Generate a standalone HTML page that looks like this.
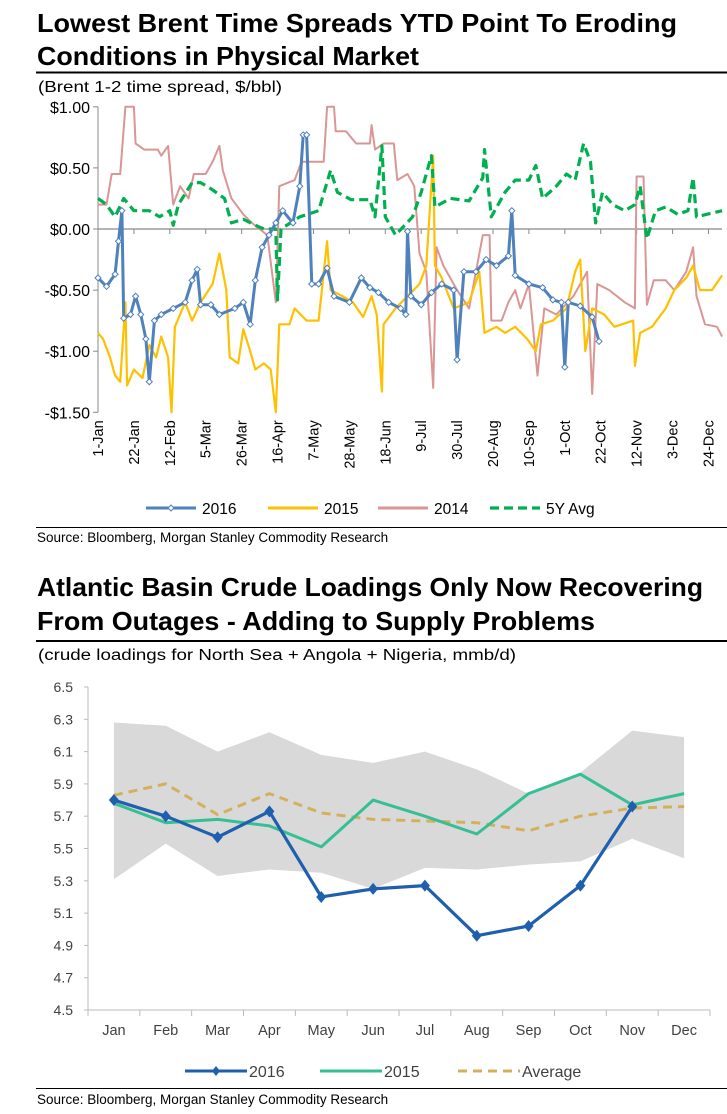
<!DOCTYPE html>
<html><head><meta charset="utf-8"><style>
html,body{margin:0;padding:0;background:#fff;}
svg{display:block;font-family:"Liberation Sans",Arial,sans-serif;}
</style></head><body>
<svg id="page" width="727" height="1114" viewBox="0 0 727 1114" xmlns="http://www.w3.org/2000/svg">
<text x="37" y="32" font-size="26" font-weight="bold" textLength="640" lengthAdjust="spacingAndGlyphs">Lowest Brent Time  Spreads YTD Point To Eroding</text>
<text x="37" y="65" font-size="26" font-weight="bold" textLength="382" lengthAdjust="spacingAndGlyphs">Conditions in Physical Market</text>
<line x1="36" y1="72.5" x2="727" y2="72.5" stroke="#000" stroke-width="2"/>
<text x="38" y="92" font-size="16" textLength="244" lengthAdjust="spacingAndGlyphs">(Brent 1-2 time spread, $/bbl)</text>
<g id="c1"></g>
<line x1="36" y1="527.5" x2="727" y2="527.5" stroke="#000" stroke-width="1"/>
<text x="37" y="542" font-size="13.5">Source: Bloomberg, Morgan Stanley Commodity Research</text>

<text x="37" y="596" font-size="26" font-weight="bold" textLength="666" lengthAdjust="spacingAndGlyphs">Atlantic Basin Crude Loadings Only Now Recovering</text>
<text x="37" y="630" font-size="26" font-weight="bold" textLength="558" lengthAdjust="spacingAndGlyphs">From Outages -  Adding to Supply Problems</text>
<line x1="36" y1="641" x2="727" y2="641" stroke="#000" stroke-width="2"/>
<text x="38" y="660" font-size="15.5" textLength="478" lengthAdjust="spacingAndGlyphs">(crude loadings for North Sea + Angola +  Nigeria, mmb/d)</text>
<g id="c2"></g>
<line x1="36" y1="1088.5" x2="727" y2="1088.5" stroke="#000" stroke-width="1"/>
<text x="37" y="1104" font-size="13.5">Source: Bloomberg, Morgan Stanley Commodity Research</text>
</svg>
<script>
// ---------- Chart 1 data ----------
const tickLabels1 = ["1-Jan","22-Jan","12-Feb","5-Mar","26-Mar","16-Apr","7-May","28-May","18-Jun","9-Jul","30-Jul","20-Aug","10-Sep","1-Oct","22-Oct","12-Nov","3-Dec","24-Dec"];
const yTicks1 = [1,0.5,0,-0.5,-1,-1.5];
const yTickLabels1 = ["$1.00","$0.50","$0.00","-$0.50","-$1.00","-$1.50"];
const days2016 = [0,5,10,12,14,15,19,22,25,28,30,33,37,44,51,55,58,60,66,71,80,85,89,92,96,100,104,108,114,118,120,122,125,129,134,138,147,154,159,164,170,177,180,181,183,189,195,201,208,210,214,221,227,233,240,242,244,252,260,266,271,273,275,282,289,293];
const vals2016 = [-0.40,-0.47,-0.37,-0.10,0.15,-0.73,-0.70,-0.55,-0.70,-0.90,-1.25,-0.75,-0.70,-0.65,-0.60,-0.42,-0.33,-0.62,-0.62,-0.70,-0.65,-0.60,-0.78,-0.42,-0.15,-0.05,0.05,0.15,0.05,0.35,0.77,0.77,-0.45,-0.45,-0.32,-0.55,-0.60,-0.40,-0.48,-0.52,-0.60,-0.65,-0.70,-0.02,-0.55,-0.62,-0.52,-0.45,-0.50,-1.07,-0.35,-0.35,-0.25,-0.30,-0.22,0.15,-0.38,-0.45,-0.48,-0.58,-0.60,-1.13,-0.60,-0.63,-0.72,-0.92];
const days2015 = [0,3,7,10,13,16,17,21,26,30,34,37,41,43,45,51,55,60,67,71,75,77,82,85,89,92,97,101,104,106,112,115,122,129,134,136,143,149,155,160,163,166,167,174,181,188,192,196,197,201,208,217,223,226,233,238,244,251,256,259,266,274,279,282,285,289,296,302,313,314,317,324,332,337,344,348,352,359,365];
const vals2015 = [-0.85,-0.90,-1.05,-1.20,-1.25,-0.60,-1.28,-1.15,-1.22,-0.95,-1.05,-0.88,-1.05,-1.50,-0.80,-0.60,-0.75,-0.60,-0.45,-0.20,-0.50,-1.05,-1.10,-0.82,-1.00,-1.15,-1.10,-1.15,-1.50,-0.78,-0.78,-0.65,-0.75,-0.75,-0.10,-0.50,-0.55,-0.60,-0.72,-0.55,-0.70,-1.33,-0.78,-0.65,-0.55,-0.45,-0.30,0.60,-0.30,-0.40,-0.65,-0.60,-0.35,-0.85,-0.80,-0.85,-0.80,-0.90,-1.00,-0.78,-0.75,-0.65,-0.35,-0.25,-1.00,-0.65,-0.70,-0.80,-0.75,-1.12,-0.85,-0.80,-0.65,-0.50,-0.40,-0.30,-0.50,-0.50,-0.38];
const days2014 = [0,5,8,13,16,21,22,27,35,37,41,44,48,53,56,63,67,71,73,78,85,90,99,104,106,115,119,132,134,138,139,145,151,159,160,162,167,173,175,181,185,188,192,196,198,202,210,217,225,229,230,236,240,244,247,252,257,261,268,278,286,289,292,299,308,314,315,319,321,325,332,337,344,348,350,355,362,365];
const vals2014 = [0.20,0.20,0.45,0.45,1.00,1.00,0.70,0.65,0.65,0.60,0.68,0.20,0.35,0.25,0.45,0.45,0.55,0.68,0.48,0.25,0.12,0.05,-0.05,-0.60,0.35,0.40,0.55,0.55,1.00,1.00,0.80,0.80,0.70,0.70,0.85,0.65,0.70,0.70,0.40,0.45,0.35,-0.20,-0.35,-1.30,-0.15,-0.30,-0.50,-0.65,-0.05,-0.05,-0.75,-0.75,-0.60,-0.50,-0.65,-0.45,-1.20,-0.65,-0.70,-0.55,-0.35,-1.35,-0.45,-0.50,-0.60,-0.65,0.43,0.43,-0.62,-0.42,-0.42,-0.50,-0.35,-0.15,-0.55,-0.78,-0.80,-0.88];
const days5y = [0,5,10,15,21,30,36,42,44,47,55,60,66,74,78,85,92,97,104,105,107,118,129,136,140,148,159,162,166,168,174,184,189,195,197,206,217,225,226,230,238,244,252,256,260,268,274,279,284,288,291,295,301,308,314,317,321,326,332,339,345,348,350,356,365];
const vals5y = [0.25,0.20,0.10,0.25,0.15,0.15,0.10,0.15,0.03,0.20,0.38,0.38,0.33,0.25,0.05,0.08,0.03,0.00,0.00,-0.58,0.00,0.10,0.15,0.48,0.30,0.24,0.24,0.10,0.68,0.10,-0.05,0.10,0.30,0.60,0.18,0.25,0.23,0.42,0.65,0.10,0.30,0.40,0.40,0.52,0.25,0.35,0.45,0.40,0.70,0.55,0.05,0.30,0.20,0.15,0.20,0.35,-0.08,0.15,0.18,0.12,0.15,0.42,0.10,0.12,0.15];

// ---------- Chart 2 data ----------
const months = ["Jan","Feb","Mar","Apr","May","Jun","Jul","Aug","Sep","Oct","Nov","Dec"];
const yTicks2 = [6.5,6.3,6.1,5.9,5.7,5.5,5.3,5.1,4.9,4.7,4.5];
const yTickLabels2 = ["6.5","6.3","6.1","5.9","5.7","5.5","5.3","5.1","4.9","4.7","4.5"];
const load2016 = [5.80,5.70,5.57,5.73,5.20,5.25,5.27,4.96,5.02,5.27,5.76];
const load2015 = [5.78,5.66,5.68,5.64,5.51,5.80,5.70,5.59,5.84,5.96,5.77,5.84];
const loadAvg = [5.83,5.90,5.71,5.84,5.72,5.68,5.67,5.66,5.61,5.70,5.75,5.76];
const rangeHigh = [6.28,6.26,6.10,6.22,6.08,6.03,6.10,5.99,5.84,5.97,6.23,6.19];
const rangeLow = [5.31,5.53,5.33,5.37,5.35,5.25,5.38,5.37,5.40,5.42,5.56,5.44];

const NS="http://www.w3.org/2000/svg";
function mk(parent,tag,attrs,text){const e=document.createElementNS(NS,tag);for(const k in attrs)e.setAttribute(k,attrs[k]);if(text!==undefined)e.textContent=text;parent.appendChild(e);return e;}

// ----- Chart 1 -----
(function(){
const g=document.getElementById('c1');
const x0=98, dayW=1.71, yZero=229, unit=122.2;
const X=d=>x0+d*dayW, Y=v=>yZero-v*unit;
let ax=mk(g,'line',{x1:x0,y1:Y(1),x2:x0,y2:Y(-1.5),stroke:'#888','stroke-width':1});


yTicks1.forEach((v,i)=>{
  let t=mk(g,'line',{x1:x0-5,y1:Y(v),x2:x0,y2:Y(v),stroke:'#888'});
  
  
  let l=mk(g,'text',{x:x0-8,y:Y(v)+6,'font-size':16,'text-anchor':'end'},yTickLabels1[i]);
  
  
});
let z=mk(g,'line',{x1:x0,y1:Y(0),x2:722,y2:Y(0),stroke:'#888','stroke-width':1.3});


tickLabels1.forEach((s,i)=>{
  const x=X(i*21);
  let t=mk(g,'line',{x1:x,y1:Y(0),x2:x,y2:Y(0)+5,stroke:'#888'});
  
  
  let l=mk(g,'text',{x:0,y:0,'font-size':14.5,'text-anchor':'end',transform:`translate(${x+5},${Y(-1.5)+8}) rotate(-90)`},s);
  
  
});
function series(days,vals,color,w,dash,name){
  const d=days.map((dd,i)=>(i?'L':'M')+X(dd).toFixed(1)+','+Y(Math.max(-1.5,Math.min(1,vals[i]))).toFixed(1)).join(' ');
  const p=mk(g,'path',{d:d,fill:'none',stroke:color,'stroke-width':w,'stroke-linejoin':'round'});
  if(dash)p.setAttribute('stroke-dasharray',dash);
  
  
  return p;
}
series(days2014,vals2014,'#d99694',2,null,'series-2014');
series(days2015,vals2015,'#ffc000',2.2,null,'series-2015');
series(days5y,vals5y,'#00b050',3.2,'9,5','series-5y-avg');
series(days2016,vals2016,'#4f81bd',3,null,'series-2016');
days2016.forEach((dd,i)=>{
  const c=mk(g,'path',{d:`M${X(dd)},${Y(vals2016[i])-3}l3,3l-3,3l-3,-3z`,fill:'#fff',stroke:'#4f81bd','stroke-width':1});
  
  
});
// legend
const ly=508;
const lg=mk(g,'g',{});


const items=[[146,'#4f81bd',null,'2016',true],[268,'#ffc000',null,'2015',false],[378,'#d99694',null,'2014',false],[490,'#00b050','9,5','5Y Avg',false]];
items.forEach(it=>{
  const e=mk(lg,'g',{});
  
  
  const ln=mk(e,'line',{x1:it[0],y1:ly,x2:it[0]+50,y2:ly,stroke:it[1],'stroke-width':it[2]?3.2:3});
  if(it[2])ln.setAttribute('stroke-dasharray',it[2]);
  if(it[4])mk(e,'path',{d:`M${it[0]+25},${ly-3}l3,3l-3,3l-3,-3z`,fill:'#fff',stroke:'#4f81bd'});
  mk(e,'text',{x:it[0]+56,y:ly+6,'font-size':15.5},it[3]);
});
})();

// ----- Chart 2 -----
(function(){
const g=document.getElementById('c2');
const xL=88,xR=710,bw=(xR-xL)/12,yTop=687,yBot=1010;
const X=i=>xL+bw*(i+0.5), Y=v=>yBot-(v-4.5)/2*(yBot-yTop);
const band=mk(g,'path',{d:rangeHigh.map((v,i)=>(i?'L':'M')+X(i)+','+Y(v)).join(' ')+' '+rangeLow.map((v,i)=>'L'+X(11-i)+','+Y(rangeLow[11-i])).join(' ')+'Z',fill:'#d9d9d9'});


let ax=mk(g,'line',{x1:xL,y1:yTop,x2:xL,y2:yBot,stroke:'#bbb'});


let bx=mk(g,'line',{x1:xL,y1:yBot,x2:xR,y2:yBot,stroke:'#bbb'});


yTicks2.forEach((v,i)=>{
  let t=mk(g,'line',{x1:xL-4,y1:Y(v),x2:xL,y2:Y(v),stroke:'#bbb'});
  
  
  let l=mk(g,'text',{x:xL-15,y:Y(v)+5,'font-size':14,'text-anchor':'end',fill:'#404040'},yTickLabels2[i]);
  
  
});
for(let i=0;i<=12;i++){
  let t=mk(g,'line',{x1:xL+bw*i,y1:yBot,x2:xL+bw*i,y2:yBot+6,stroke:'#bbb'});
  
  
}
months.forEach((m,i)=>{
  let l=mk(g,'text',{x:X(i),y:1035,'font-size':14.5,'text-anchor':'middle',fill:'#404040'},m);
  
  
});
function line(vals,color,w,dash,name){
  const p=mk(g,'path',{d:vals.map((v,i)=>(i?'L':'M')+X(i).toFixed(1)+','+Y(v).toFixed(1)).join(' '),fill:'none',stroke:color,'stroke-width':w,'stroke-linejoin':'round'});
  if(dash)p.setAttribute('stroke-dasharray',dash);
  
  
}
line(loadAvg,'#d4b05e',3,'9,6','series-average');
line(load2015,'#35bf95',3,null,'series-2015');
line(load2016,'#1f5fae',3.2,null,'series-2016');
load2016.forEach((v,i)=>{
  const c=mk(g,'path',{d:`M${X(i)},${Y(v)-6}l5,6l-5,6l-5,-6z`,fill:'#1f5fae'});
  
  
});
const ly=1071;
const lg=mk(g,'g',{});


[[185,'#1f5fae',null,'2016',true],[320,'#35bf95',null,'2015',false],[458,'#d4b05e','9,6','Average',false]].forEach(it=>{
  const e=mk(lg,'g',{});
  
  
  const ln=mk(e,'line',{x1:it[0],y1:ly,x2:it[0]+62,y2:ly,stroke:it[1],'stroke-width':3});
  if(it[2])ln.setAttribute('stroke-dasharray',it[2]);
  if(it[4])mk(e,'path',{d:`M${it[0]+31},${ly-5}l4,5l-4,5l-4,-5z`,fill:'#1f5fae'});
  mk(e,'text',{x:it[0]+64,y:ly+6,'font-size':16,fill:'#404040'},it[3]);
});
})();
</script>
</body></html>
